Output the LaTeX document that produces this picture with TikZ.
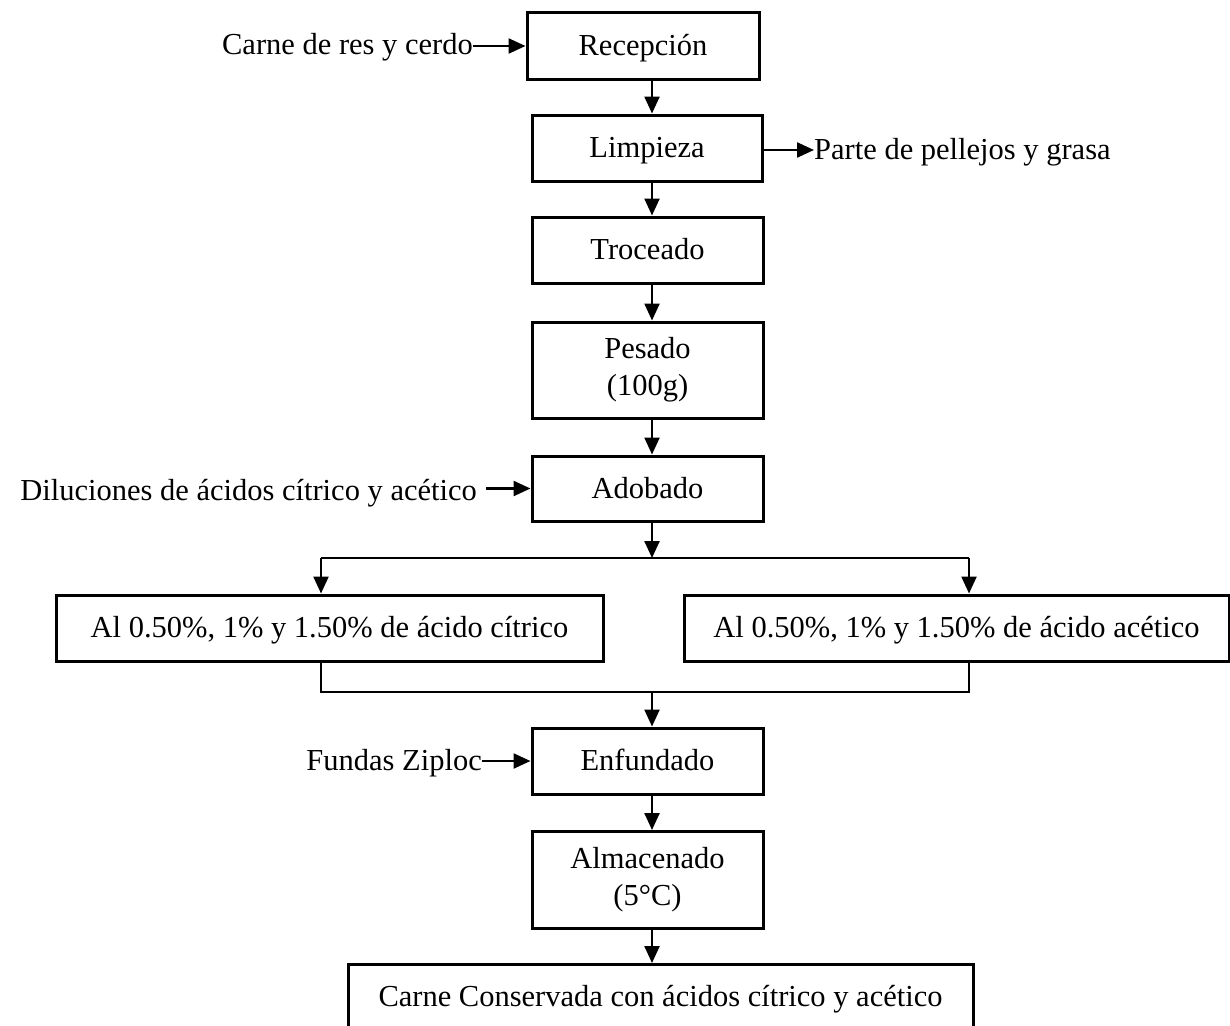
\documentclass[tikz,border=0pt]{standalone}
\usepackage{fontspec}
\setmainfont{Liberation Serif}
\usetikzlibrary{arrows.meta}
\tikzset{
  txt/.style={font=\fontsize{30.5pt}{37pt}\selectfont, inner sep=0pt, align=center},
  sidetxt/.style={txt, text height=22pt, text depth=4pt},
  stepbox/.style={txt, draw, line width=3pt, minimum width=231pt, minimum height=66pt},
  oneline/.style={stepbox, text height=23pt, text depth=4pt},
  arr/.style={line width=2.4pt, -{Triangle[length=17pt,width=15pt]}},
  thinline/.style={line width=1.5pt},
}
\begin{document}
\begin{tikzpicture}[x=1pt,y=1pt]
\clip (0,0) rectangle (1230,-1025);
\fill[white] (0,0) rectangle (1230,-1025);
% helper coordinates (x positions of vertical connectors)
\coordinate (ax) at (652,0);
\coordinate (sl) at (321,0);
\coordinate (sr) at (969,0);
\coordinate (split) at (652,-558);
\coordinate (join) at (652,-692);

% main boxes
\node[oneline, minimum width=232pt] (rec) at (643,-46) {Recepción};
\node[oneline, minimum width=230pt] (lim) at (647,-148) {Limpieza};
\node[oneline] (tro) at (647.5,-250) {Troceado};
\node[stepbox, minimum height=96pt] (pes) at (647.5,-370) {Pesado\\(100g)};
\node[oneline, minimum height=65pt] (ado) at (647.5,-488.5) {Adobado};
\node[oneline, minimum width=547pt] (cit) at (329.5,-628) {Al 0.50\%, 1\% y 1.50\% de ácido cítrico};
\node[oneline, minimum width=545pt] (ace) at (956.5,-628) {Al 0.50\%, 1\% y 1.50\% de ácido acético};
\node[oneline] (enf) at (647.5,-761) {Enfundado};
\node[stepbox, minimum height=97pt] (alm) at (647.5,-880) {Almacenado\\(5°C)};
\node[oneline, minimum width=625pt, minimum height=72pt, text depth=11pt, anchor=north] (fin) at (660.5,-963) {Carne Conservada con ácidos cítrico y acético};

% side texts
\node[sidetxt, anchor=east] (carne) at (473,-46) {Carne de res y cerdo};
\node[sidetxt, anchor=west] (parte) at (814,-150) {Parte de pellejos y grasa};
\node[sidetxt, anchor=east] (dil) at (477,-491) {Diluciones de ácidos cítrico y acético};
\node[sidetxt, anchor=east] (fun) at (482,-761) {Fundas Ziploc};

% side arrows
\draw[arr] (carne.east) -- (carne.east -| rec.west);
\draw[arr] (lim.east |- parte.west) -- (parte.west);
\draw[arr] ([xshift=9pt]dil.east |- ado.west) -- (ado.west);
\draw[arr] (fun.east |- enf.west) -- (enf.west);

% main flow
\draw[arr] (rec.south -| ax) -- (lim.north -| ax);
\draw[arr] (lim.south -| ax) -- (tro.north -| ax);
\draw[arr] (tro.south -| ax) -- (pes.north -| ax);
\draw[arr] (pes.south -| ax) -- (ado.north -| ax);
\draw[arr] (ado.south -| ax) -- (split);
\draw[thinline] (split -| sl) -- (split -| sr);
\draw[arr] (split -| sl) -- (cit.north -| sl);
\draw[arr] (split -| sr) -- (ace.north -| sr);
\draw[thinline] (cit.south -| sl) |- (join);
\draw[thinline] (ace.south -| sr) |- (join);
\draw[arr] (join) -- (enf.north -| ax);
\draw[arr] (enf.south -| ax) -- (alm.north -| ax);
\draw[arr] (alm.south -| ax) -- (fin.north -| ax);
\end{tikzpicture}
\end{document}
